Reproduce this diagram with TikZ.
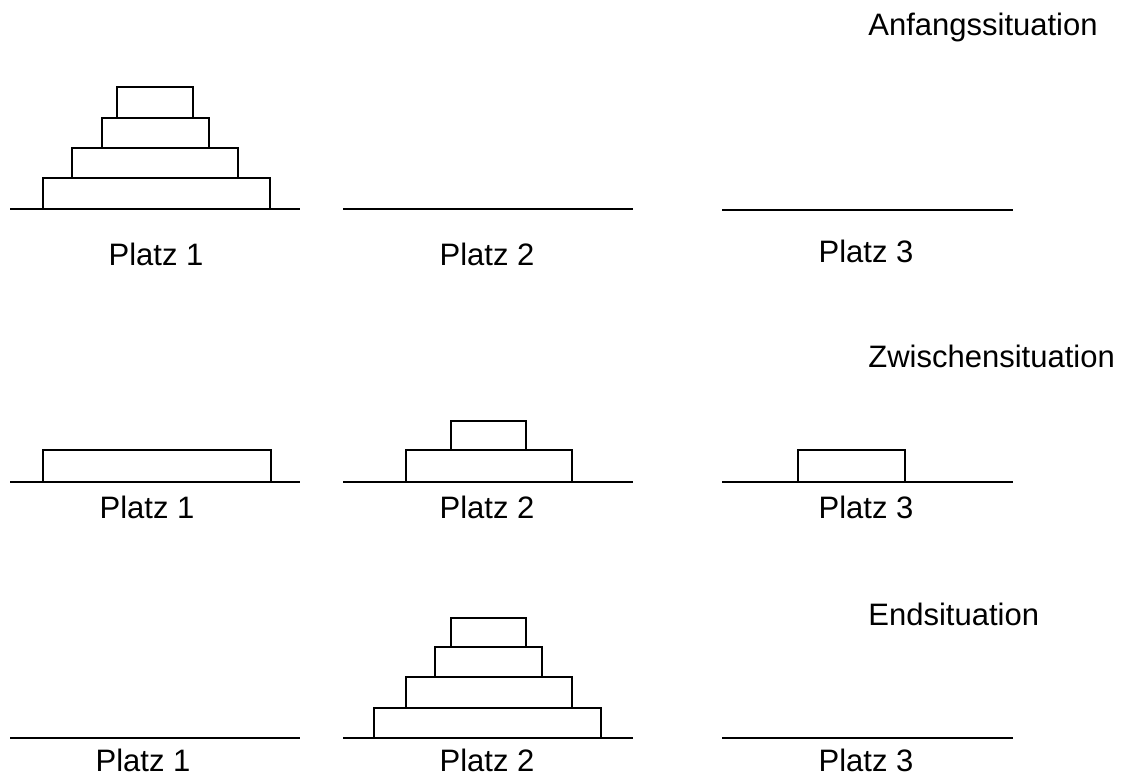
\documentclass[tikz,border=0pt]{standalone}
\usepackage{fontspec}
\setmainfont{Liberation Sans}
\usepackage{tikz}

\begin{document}
\begin{tikzpicture}[x=1pt,y=-1pt,line width=2.8pt,
    platz/.style={anchor=base,inner sep=0pt,font=\fontsize{31}{37}\selectfont},
    titel/.style={anchor=base west,inner sep=0pt,font=\fontsize{31}{37}\selectfont}]
	  \useasboundingbox (0,0) rectangle (1129,778);
	  % Anfangssituation
	  \draw(867, 36) node[titel](t1) {Anfangssituation};
	  \draw(10, 209) -- (300, 209);
	  \draw(343, 209) -- (633, 209);
	  \draw(722, 210) -- (1013, 210);
	  \draw(43, 178) rectangle (270, 209);
	  \draw(72, 148) rectangle (238, 178);
	  \draw(102, 118) rectangle (209, 148);
	  \draw(117, 87) rectangle (193, 118);
	  \draw(156, 265) node[platz](a1) {Platz 1};
	  \draw(487, 265) node[platz](a2) {Platz 2};
	  \draw(866, 262) node[platz](a3) {Platz 3};
	  % Zwischensituation
	  \draw(867, 367) node[titel](t2) {Zwischensituation};
	  \draw(10, 482) -- (300, 482);
	  \draw(343, 482) -- (633, 482);
	  \draw(722, 482) -- (1013, 482);
	  \draw(43, 450) rectangle (271, 482);
	  \draw(406, 450) rectangle (572, 482);
	  \draw(451, 421) rectangle (526, 450);
	  \draw(798, 450) rectangle (905, 482);
	  \draw(147, 518) node[platz](z1) {Platz 1};
	  \draw(487, 518) node[platz](z2) {Platz 2};
	  \draw(866, 518) node[platz](z3) {Platz 3};
	  % Endsituation
	  \draw(867, 625) node[titel](t3) {Endsituation};
	  \draw(10, 738) -- (300, 738);
	  \draw(343, 738) -- (633, 738);
	  \draw(722, 738) -- (1013, 738);
	  \draw(374, 708) rectangle (601, 738);
	  \draw(406, 677) rectangle (572, 708);
	  \draw(435, 647) rectangle (542, 677);
	  \draw(451, 618) rectangle (526, 647);
	  \draw(143, 771) node[platz](e1) {Platz 1};
	  \draw(487, 771) node[platz](e2) {Platz 2};
	  \draw(866, 771) node[platz](e3) {Platz 3};
	\end{tikzpicture}
\end{document}
